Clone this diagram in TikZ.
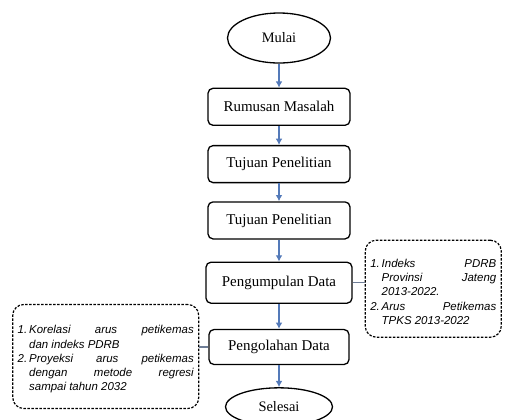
\documentclass[tikz,border=0pt]{standalone}
\usepackage{fontspec}
\setmainfont{Liberation Serif}
\setsansfont{Liberation Sans}
\usepackage{xcolor}
\usepackage{tikz}
\usetikzlibrary{
    arrows.meta,
    positioning,
    shapes.geometric
}
\definecolor{flowblue}{RGB}{84,122,185}
\newcommand{\listitem}[1]{\par\noindent\hangindent=1em\hangafter=1\makebox[1em][l]{#1}}
\tikzset{
    block/.style={
        rectangle,
        rounded corners=5bp,
        draw=black,
        line width=1.3bp,
        align=center,
        minimum height=37bp,
        minimum width=142bp,
        font=\fontsize{15}{17}\selectfont
    },
    terminal/.style={
        ellipse,
        draw=black,
        line width=1.3bp,
        align=center,
        minimum height=50bp,
        minimum width=103bp,
        font=\fontsize{14.5}{17}\selectfont
    },
    notebox/.style={
        rectangle,
        rounded corners=11bp,
        draw=black,
        line width=1.2bp,
        dash pattern=on 2.5bp off 1.5bp,
        align=justify,
        inner xsep=5bp,
        font=\sffamily\itshape\fontsize{11.5}{14.3}\selectfont
    },
    arrow/.style={
        -{Latex[length=2.2mm, width=2.4mm]},
        draw=flowblue,
        line width=2bp
    },
    link/.style={
        draw=gray!60!flowblue,
        line width=1.5bp
    }
}
\begin{document}
\begin{tikzpicture}[x=1bp, y=1bp, node distance=22bp]
\useasboundingbox (0,0) rectangle (505,-419);
\node[terminal] (mulai) at (279,-38) {Mulai};
\node[block, below=24bp of mulai] (rumusan) {Rumusan Masalah};
\node[block, below=19bp of rumusan] (tujuan) {Tujuan Penelitian};
\node[block, below=18bp of tujuan] (tujuanb) {Tujuan Penelitian};
\node[block, below=22bp of tujuanb, minimum height=41bp, minimum width=146bp] (pengumpulan) {Pengumpulan Data};
\node[block, below=25bp of pengumpulan, minimum height=35bp, minimum width=140bp] (pengolahan) {Pengolahan Data};
\node[terminal, below=22bp of pengolahan, minimum height=38bp, minimum width=107bp] (selesai) {Selesai};

\node[notebox, right=12bp of pengumpulan, yshift=-6bp, text width=126bp, minimum height=97bp] (datalist) {%
\listitem{1.}Indeks PDRB\linebreak Provinsi Jateng\linebreak 2013-2022.
\listitem{2.}Arus Petikemas\linebreak TPKS 2013-2022\par};
\node[notebox, left=9bp of pengolahan, yshift=-9.5bp, text width=176bp, minimum height=104bp] (olahlist) {%
\listitem{1.}Korelasi arus petikemas\linebreak dan indeks PDRB
\listitem{2.}Proyeksi arus petikemas\linebreak dengan metode regresi\linebreak sampai tahun 2032\par};

\draw[arrow] (mulai) -- (rumusan);
\draw[arrow] (rumusan) -- (tujuan);
\draw[arrow] (tujuan) -- (tujuanb);
\draw[arrow] (tujuanb) -- (pengumpulan);
\draw[arrow] (pengumpulan) -- (pengolahan);
\draw[arrow] (pengolahan) -- (selesai);
\draw[link] (pengumpulan.east) -- (pengumpulan.east -| datalist.west);
\draw[link] (pengolahan.west) -- (pengolahan.west -| olahlist.east);
\end{tikzpicture}
\end{document}
